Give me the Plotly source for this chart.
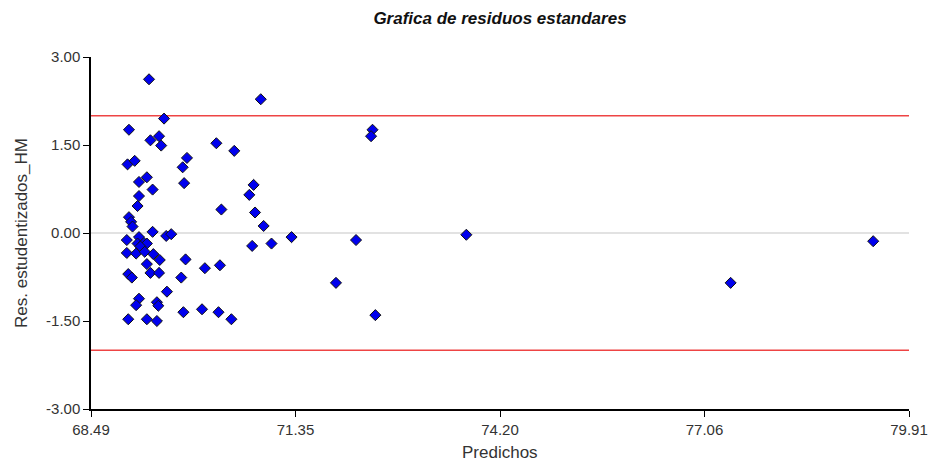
import plotly.graph_objects as go

predichos = [
    69.30, 69.51, 69.02, 69.32, 69.44, 69.47, 70.24, 69.00, 69.10, 69.83,
    69.77, 69.16, 69.27, 69.79, 69.35, 69.16, 69.14, 69.02, 69.05, 69.07,
    69.35, 69.54, 69.61, 68.99, 69.16, 69.14, 69.23, 69.27, 69.18, 68.99,
    69.12, 69.24, 69.36, 69.45, 69.27, 69.81, 70.08, 70.29, 69.01, 69.06,
    69.32, 69.44, 69.75, 69.55, 69.16, 69.12, 69.41, 69.43, 69.78, 70.04,
    70.27, 70.45, 69.01, 69.27, 69.41, 70.86, 70.49, 70.76, 70.70, 70.31,
    70.78, 70.90, 70.74, 71.01, 71.29, 72.42, 72.40, 72.19, 71.91, 72.46,
    73.73, 77.42, 79.41,
]
residuos = [
    2.62, 1.95, 1.76, 1.58, 1.65, 1.49, 1.53, 1.17, 1.23, 1.28,
    1.12, 0.87, 0.95, 0.85, 0.74, 0.63, 0.46, 0.27, 0.19, 0.11,
    0.02, -0.05, -0.02, -0.12, -0.07, -0.18, -0.17, -0.18, -0.23, -0.34,
    -0.35, -0.32, -0.36, -0.46, -0.53, -0.45, -0.60, -0.55, -0.70, -0.76,
    -0.68, -0.68, -0.76, -1.00, -1.12, -1.23, -1.18, -1.24, -1.35, -1.30,
    -1.35, -1.47, -1.47, -1.47, -1.50, 2.28, 1.40, 0.82, 0.65, 0.40,
    0.35, 0.12, -0.22, -0.18, -0.07, 1.76, 1.65, -0.12, -0.85, -1.40,
    -0.03, -0.85, -0.14,
]

x_tick_vals = [68.49, 71.345, 74.20, 77.055, 79.91]
x_tick_labels = ["68.49", "71.35", "74.20", "77.06", "79.91"]
y_tick_vals = [3.0, 1.5, 0.0, -1.5, -3.0]
y_tick_labels = ["3.00", "1.50", "0.00", "-1.50", "-3.00"]
limites = [2.0, -2.0]

titulo = "Grafica de residuos estandares"
titulo_x = "Predichos"
titulo_y = "Res. estudentizados_HM"

W, H = 930, 462
L, R, T, B = 91, 21, 57, 53

fig = go.Figure()

fig.add_shape(type="line", xref="paper", x0=0, x1=1, yref="y", y0=0, y1=0,
              line=dict(color="#d9d9d9", width=1.5), layer="below")
for lim in limites:
    fig.add_shape(type="line", xref="paper", x0=0, x1=1, yref="y", y0=lim, y1=lim,
                  line=dict(color="#ee4444", width=1.5), layer="below")

fig.add_trace(go.Scatter(
    x=predichos, y=residuos, mode="markers",
    marker=dict(symbol="diamond", size=8.5, color="#0000ee",
                line=dict(color="#111111", width=1)),
    showlegend=False,
))

fig.add_annotation(text=titulo_x, xref="paper", yref="paper", x=0.5, y=0,
                   xanchor="center", yanchor="middle", yshift=-43, showarrow=False,
                   font=dict(size=17, color="#333333"))
fig.add_annotation(text=titulo_y, xref="paper", yref="paper", x=0, y=0.5,
                   xanchor="center", yanchor="middle", xshift=-70, textangle=-90,
                   showarrow=False, font=dict(size=17, color="#333333"))

fig.update_layout(
    width=W, height=H,
    margin=dict(l=L, r=R, t=T, b=B),
    paper_bgcolor="white", plot_bgcolor="white",
    font=dict(family="Liberation Sans, Arial, sans-serif", color="#333333", size=15),
    title=dict(text="<b><i>" + titulo + "</i></b>",
               x=500 / W, xanchor="center", y=1 - 18 / H, yanchor="middle",
               font=dict(size=17, color="#111111")),
    xaxis=dict(range=[68.49, 79.91], tickvals=x_tick_vals, ticktext=x_tick_labels,
               showgrid=False, zeroline=False, showline=True, linecolor="black",
               linewidth=1.5, ticks="outside", ticklen=6, tickcolor="black",
               automargin=False, tickfont=dict(size=15, color="#333333")),
    yaxis=dict(range=[-3.0, 3.0], tickvals=y_tick_vals, ticktext=y_tick_labels,
               showgrid=False, zeroline=False, showline=True, linecolor="black",
               linewidth=1.5, ticks="outside", ticklen=6, tickcolor="black",
               automargin=False, tickfont=dict(size=15, color="#333333")),
)

fig.write_html(
    "out.html",
    config={"displayModeBar": False},
    post_script="document.body.style.margin='0';document.body.style.overflow='hidden';",
)
